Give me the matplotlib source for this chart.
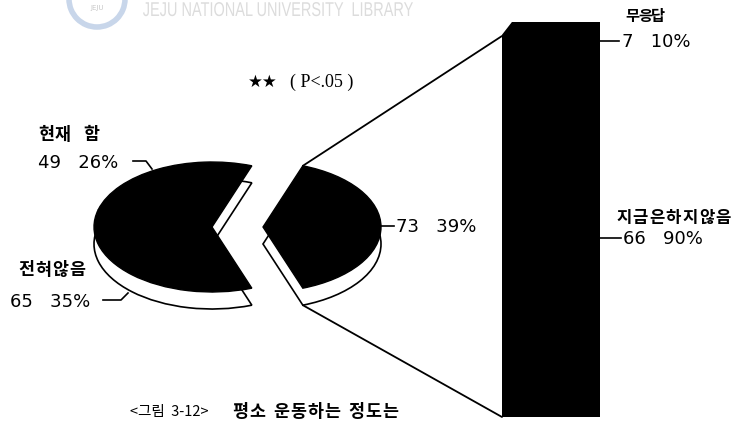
import numpy as np
import matplotlib.pyplot as plt
from matplotlib.patches import ConnectionPatch, Polygon, Arc, PathPatch
from matplotlib.textpath import TextPath
from matplotlib.font_manager import FontProperties
from matplotlib.transforms import Affine2D

plt.rcParams["font.family"] = ["DejaVu Sans", "Noto Sans CJK KR"]

# 데이터
pie_labels = ["지금은하지않음", "현재 함", "전혀않음"]
pie_counts = [73, 49, 65]
pie_pcts = [39, 26, 35]
bar_labels = ["지금은하지않음", "무응답"]
bar_counts = [66, 7]
bar_pcts = [90, 10]

W, H = 737, 427
fig = plt.figure(figsize=(W / 100, H / 100), dpi=100)

# 원그래프 (타원형, 3D 느낌)
cx, cy, rx, ry = 212, 228, 118, 65
depth = 17 / ry
ax_pie = fig.add_axes([0, 0, 1, 1])
start = -pie_counts[0] / sum(pie_counts) * 180
explode = [51 / rx, 0, 0]

side, _ = ax_pie.pie(pie_counts, explode=explode, startangle=start,
                     center=(0, -depth), colors=["white"] * 3,
                     wedgeprops=dict(edgecolor="black", linewidth=1.2))
top, _ = ax_pie.pie(pie_counts, explode=explode, startangle=start,
                    colors=["black"] * 3,
                    wedgeprops=dict(edgecolor="black", linewidth=1.0))
ax_pie.set_aspect("auto")
ax_pie.set_xlim(-cx / rx, (W - cx) / rx)
ax_pie.set_ylim(-(H - cy) / ry, cy / ry)
ax_pie.axis("off")

# 막대그래프
bx0, bx1, by0, by1 = 502, 600, 23, 418
ax_bar = fig.add_axes([bx0 / W, (H - by1) / H, (bx1 - bx0) / W, (by1 - by0) / H])
bottom = 0
for v in bar_counts:
    ax_bar.bar(0, v, width=1.0, bottom=bottom, color="black", edgecolor="black")
    bottom += v
ax_bar.set_xlim(-0.5, 0.5)
ax_bar.set_ylim(0, sum(bar_counts))
ax_bar.axis("off")
chamfer = 14 / (by1 - by0)
ax_bar.add_patch(Polygon([(-0.01, 1.01), (13 / (bx1 - bx0), 1.01), (-0.01, 1 - chamfer)],
                         closed=True, transform=ax_bar.transAxes,
                         facecolor="white", edgecolor="none", clip_on=False))

# 연결선
w_up, w_dn = top[0], side[0]
p_up = (w_up.center[0] + w_up.r * np.cos(np.radians(w_up.theta2)),
        w_up.center[1] + w_up.r * np.sin(np.radians(w_up.theta2)))
p_dn = (w_dn.center[0] + w_dn.r * np.cos(np.radians(w_dn.theta1)),
        w_dn.center[1] + w_dn.r * np.sin(np.radians(w_dn.theta1)))
for pa, pb in [(p_up, (0, 1 - chamfer)), (p_dn, (0, 0))]:
    con = ConnectionPatch(xyA=pa, coordsA="data", axesA=ax_pie,
                          xyB=pb, coordsB="axes fraction", axesB=ax_bar,
                          color="black", lw=1.3)
    fig.add_artist(con)

# 텍스트 (픽셀 좌표)
ax = fig.add_axes([0, 0, 1, 1])
ax.set_xlim(0, W)
ax.set_ylim(H, 0)
ax.axis("off")

kor = dict(family=["Noto Sans CJK KR", "DejaVu Sans"], fontweight="bold",
           fontsize=12.5, va="center", ha="left")
num = dict(family=["DejaVu Sans"], fontsize=13, va="center", ha="left")


def spaced(x, y, s, step, gap, **kw):
    # 글자 사이를 띄워서 쓰기
    for ch in s:
        if ch == " ":
            x += gap
            continue
        ax.text(x, y, ch, **kw)
        x += step


def leader(pts):
    xs, ys = zip(*pts)
    ax.plot(xs, ys, color="black", lw=1.2)


spaced(38, 135, pie_labels[1], 17, 11, **kor)
ax.text(38, 163, f"{pie_counts[1]}   {pie_pcts[1]}%", **num)
leader([(133, 162), (146, 162), (152, 170)])

spaced(18, 270, pie_labels[2], 17, 11, **kor)
ax.text(10, 302, f"{pie_counts[2]}   {pie_pcts[2]}%", **num)
leader([(103, 301), (121, 301), (128, 294)])

ax.text(396, 227, f"{pie_counts[0]}   {pie_pcts[0]}%", **num)
leader([(378, 227), (394, 227)])

spaced(625, 16, bar_labels[1], 13, 0, **dict(kor, fontsize=11))
ax.text(622, 42, f"{bar_counts[1]}   {bar_pcts[1]}%", **num)
leader([(600, 42), (619, 42)])

spaced(616, 218, bar_labels[0], 16.6, 0, **dict(kor, fontsize=12))
ax.text(623, 239, f"{bar_counts[0]}   {bar_pcts[0]}%", **num)
leader([(600, 239), (621, 239)])

# 유의수준
ax.text(248, 82, "★★", family=["DejaVu Sans"], fontsize=12, va="center")
ax.text(290, 82, "( P<.05 )", family=["Liberation Serif"], fontsize=13, va="center")

# 제목
ax.text(130, 412, "<그림  3-12>", family=["Noto Sans CJK KR", "DejaVu Sans"],
        fontsize=10.5, va="center")
spaced(232, 412, "평소 운동하는 정도는", 17, 7, **kor)

# 워터마크
ax.add_patch(Arc((97, 0), 56, 56, color="#c8d6ea", lw=4))
ax.text(97, 8, "JEJU", fontsize=5, color="#c8c8c8", ha="center", va="center")
tp = TextPath((0, 0), "JEJU NATIONAL UNIVERSITY  LIBRARY", size=20,
              prop=FontProperties(family="Liberation Sans"))
ext = tp.get_extents()
sx = 270 / ext.width
ax.add_patch(PathPatch(tp, transform=Affine2D().scale(sx, -1).translate(143 - ext.x0 * sx, 17) + ax.transData,
                       facecolor="#dcdcdc", edgecolor="none"))

fig.savefig("out.png", dpi=100)
